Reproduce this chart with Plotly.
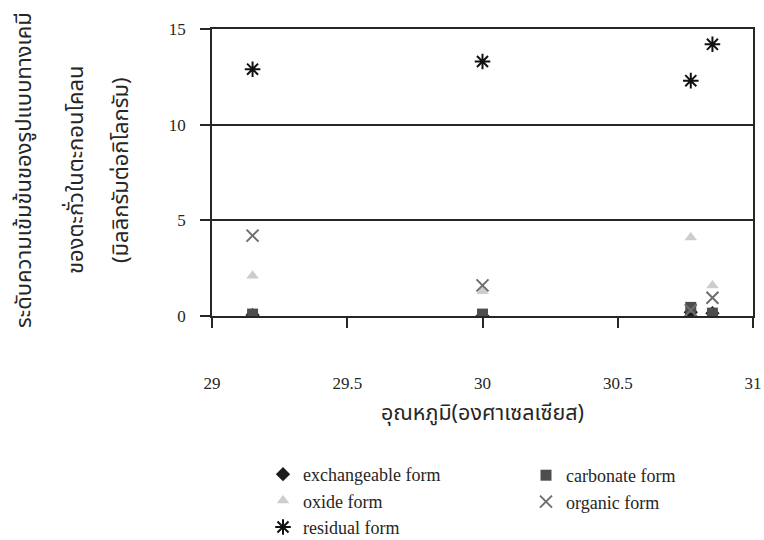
import plotly.graph_objects as go

# ---- data ----
temperature = [29.15, 30.0, 30.77, 30.85]
exchangeable = [0.05, 0.0, 0.2, 0.15]
carbonate = [0.1, 0.1, 0.45, 0.15]
oxide = [2.1, 1.3, 4.1, 1.6]
organic = [4.2, 1.6, 0.3, 0.95]
residual = [12.9, 13.3, 12.3, 14.2]

series_names = ["exchangeable form", "carbonate form", "oxide form", "organic form", "residual form"]
x_ticks = [29, 29.5, 30, 30.5, 31]
y_ticks = [0, 5, 10, 15]

y_title_lines = ["ระดับความเข้มข้นของรูปแบบทางเคมี", "ของตะกั่วในตะกอนโคลน", "(มิลลิกรัมต่อกิโลกรัม)"]
x_title = "อุณหภูมิ(องศาเซลเซียส)"

INK = "#262626"
SERIF = "Liberation Serif, Times New Roman, serif"
THAI = "Noto Sans Thai, Loma, Garuda, Tahoma, Noto Sans, sans-serif"

W, H = 764, 540
L, R, T = 212, 11, 29
B = H - 316
pw = W - L - R
ph = H - T - B


def wx(px):  # pixel x -> paper x
    return (px - L) / pw


def wy(py):  # pixel y -> paper y
    return (H - B - py) / ph


fig = go.Figure()

fig.add_trace(go.Scatter(x=temperature, y=exchangeable, mode="markers", name=series_names[0],
                         legend="legend",
                         marker=dict(symbol="diamond", size=11, color="#1c1c1c")))
fig.add_trace(go.Scatter(x=temperature, y=carbonate, mode="markers", name=series_names[1],
                         legend="legend2",
                         marker=dict(symbol="square", size=11, color="#4d4d4d")))
fig.add_trace(go.Scatter(x=temperature, y=oxide, mode="markers", name=series_names[2],
                         legend="legend",
                         marker=dict(symbol="triangle-up", size=11, color="#cdcdcd")))
fig.add_trace(go.Scatter(x=temperature, y=organic, mode="markers", name=series_names[3],
                         legend="legend2",
                         marker=dict(symbol="x-thin-open", size=12, color="#6e6e6e",
                                     line=dict(width=2, color="#6e6e6e"))))
fig.add_trace(go.Scatter(x=temperature, y=residual, mode="markers", name=series_names[4],
                         legend="legend",
                         marker=dict(symbol="asterisk-open", size=13, color="#111111",
                                     line=dict(width=2, color="#111111"))))

annotations = []
for px, line in zip([24, 76, 121], y_title_lines):
    annotations.append(dict(text=line, x=wx(px), y=wy(170),
                            xref="paper", yref="paper", textangle=-90,
                            xanchor="center", yanchor="middle", showarrow=False,
                            font=dict(family=THAI, size=22, color=INK)))

legend_common = dict(orientation="v", xanchor="left", yanchor="top",
                     font=dict(family=SERIF, size=18, color=INK),
                     bgcolor="rgba(0,0,0,0)", tracegroupgap=0, itemsizing="trace")

fig.update_layout(
    width=W, height=H,
    margin=dict(l=L, r=R, t=T, b=B, autoexpand=False),
    paper_bgcolor="white", plot_bgcolor="white",
    showlegend=True,
    legend=dict(x=wx(263), y=wy(456), **legend_common),
    legend2=dict(x=wx(526), y=wy(457), **legend_common),
    annotations=annotations,
    xaxis=dict(range=[29, 31], tickvals=x_ticks, ticktext=[str(v) for v in x_ticks],
               showgrid=False, zeroline=False, automargin=False,
               showline=True, linecolor=INK, linewidth=1.5, mirror=True,
               ticks="outside", ticklen=10, tickwidth=1.5, tickcolor=INK,
               ticklabelstandoff=41,
               tickfont=dict(family=SERIF, size=17, color=INK),
               title=dict(text=x_title, standoff=13,
                          font=dict(family=THAI, size=21.5, color=INK))),
    yaxis=dict(range=[0, 15], tickvals=y_ticks,
               showgrid=True, gridcolor=INK, gridwidth=1.5, zeroline=False, automargin=False,
               showline=True, linecolor=INK, linewidth=1.5, mirror=True,
               ticks="outside", ticklen=10, tickwidth=1.5, tickcolor=INK,
               ticklabelstandoff=11,
               tickfont=dict(family=SERIF, size=17, color=INK)),
)

fig.write_html(
    "out.html",
    config={"displayModeBar": False},
    post_script="document.body.style.margin='0';document.body.style.overflow='hidden';",
)
